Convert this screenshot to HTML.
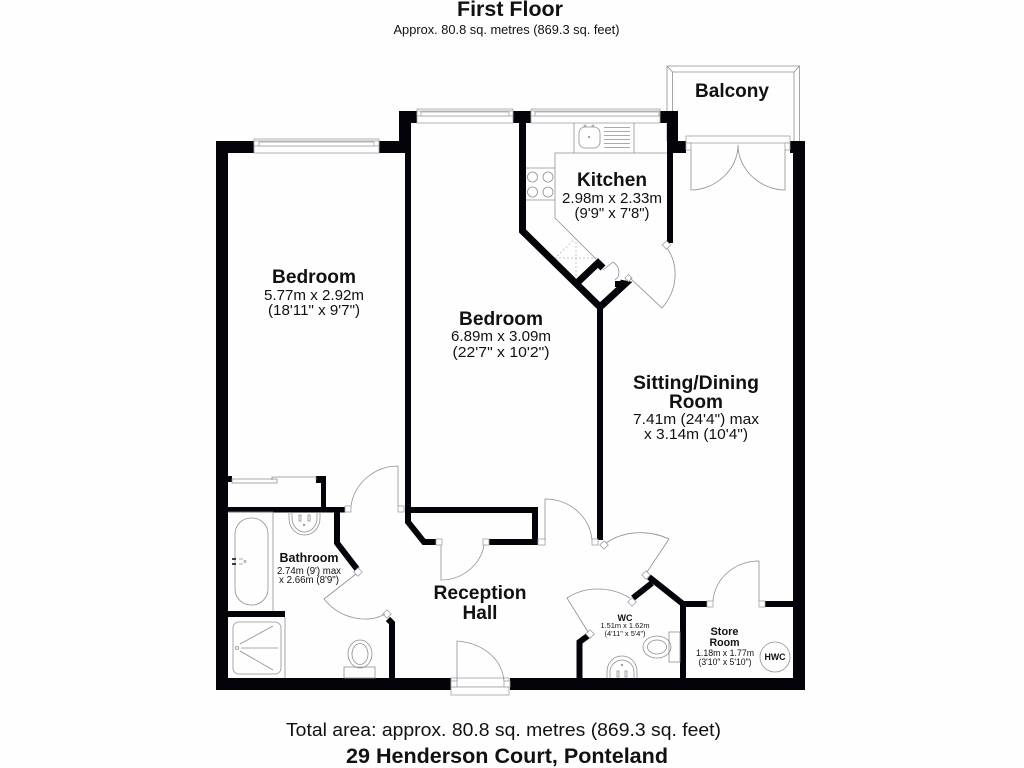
<!DOCTYPE html>
<html><head><meta charset="utf-8"><style>
html,body{margin:0;padding:0;background:#fff;width:1024px;height:768px;overflow:hidden}
svg{display:block}
text{font-family:"Liberation Sans",sans-serif;fill:#111;text-anchor:middle}
.b{font-weight:bold}
.w{fill:#05030a;stroke:none}
.wl{fill:none;stroke:#05030a;stroke-linejoin:miter}
.t{fill:none;stroke:#8f8f94;stroke-width:.8}
.f{fill:#fff;stroke:#a0a0a5;stroke-width:.8}
.d{fill:none;stroke:#bbb;stroke-width:.8;stroke-dasharray:2 2}
</style></head><body>
<svg width="1024" height="768" viewBox="0 0 1024 768" xmlns="http://www.w3.org/2000/svg">
<rect width="1024" height="768" fill="#fefefe"/>
<!-- balcony -->
<path class="t" d="M667 141V66H799.500V141M672.500 141V72H794V141M667 66L672.500 72M799.500 66L794 72"/>
<!-- outer walls -->
<rect class="w" x="216" y="141" width="12" height="549"/>
<rect class="w" x="216" y="141" width="38" height="12"/>
<rect class="w" x="379" y="141" width="32" height="12"/>
<rect class="w" x="399" y="111" width="12" height="42"/>
<rect class="w" x="399" y="111" width="18" height="12"/>
<rect class="w" x="405" y="111" width="6" height="412"/>
<rect class="w" x="513" y="111" width="18" height="12"/>
<rect class="w" x="660" y="111" width="18" height="12"/>
<rect class="w" x="667" y="111" width="11" height="42"/>
<rect class="w" x="667" y="141" width="19" height="12"/>
<rect class="w" x="667" y="141" width="6" height="102"/>
<rect class="w" x="790" y="141" width="15" height="12"/>
<rect class="w" x="793" y="141" width="12" height="549"/>
<rect class="w" x="216" y="678" width="235" height="12"/>
<rect class="w" x="510" y="678" width="295" height="12"/>
<!-- inner walls -->
<path class="wl" stroke-width="7" d="M522.500 123V231L600 307"/>
<rect class="w" x="597" y="305" width="6" height="235"/>
<path class="wl" stroke-width="7" d="M578 282L598 263L603 268"/>
<path class="wl" stroke-width="7" d="M600 307L625 284L620 283"/>
<rect class="w" x="615" y="281" width="8" height="6"/>
<!-- wardrobe + bath walls -->
<rect class="w" x="228" y="476" width="4" height="6"/>
<rect class="w" x="316" y="476" width="10" height="7"/>
<rect class="w" x="321" y="476" width="5" height="36"/>
<rect class="w" x="228" y="507" width="117" height="5.500"/>
<path class="wl" stroke-width="6" d="M337 512V543L357 569"/>
<rect class="w" x="228" y="611" width="57" height="6"/>
<path class="wl" stroke-width="6" d="M392 678V623L388 619"/>
<!-- bedroom closet -->
<rect class="w" x="405" y="507" width="133" height="6"/>
<rect class="w" x="532" y="507" width="6" height="38"/>
<rect class="w" x="489" y="539" width="49" height="6"/>
<path class="wl" stroke-width="6" d="M408 510V522L424 542H436"/>
<!-- WC / store walls -->
<path class="wl" stroke-width="6" d="M649 577L683 604H707"/>
<rect class="w" x="765" y="601" width="28" height="6"/>
<rect class="w" x="680" y="604" width="6" height="74"/>
<path class="wl" stroke-width="6" d="M652 583L633 598"/>
<path class="wl" stroke-width="6" d="M589 635L579.500 642V678"/>
<!-- windows -->
<g class="win">
<rect class="f" x="254" y="139" width="125" height="14"/><rect class="f" x="254" y="141" width="125" height="5"/><rect class="f" x="259" y="142" width="115" height="4"/>
<rect class="f" x="417" y="109" width="96" height="14"/><rect class="f" x="417" y="111" width="96" height="5"/><rect class="f" x="421" y="112" width="88" height="4"/>
<rect class="f" x="531" y="109" width="129" height="14"/><rect class="f" x="531" y="111" width="129" height="5"/><rect class="f" x="535" y="112" width="124" height="4"/>
</g>
<!-- double doors -->
<rect class="f" x="686" y="136" width="104" height="7"/>
<rect class="f" x="686" y="143" width="5" height="7"/><rect class="f" x="785" y="143" width="5" height="7"/>
<path class="t" d="M691 150V190C715 190 738 170 738 145C738 170 761 190 785 190V150"/>
<!-- kitchen -->
<path class="t" d="M667 153H555V218L597 260M574 123V153M634 123V153M526 168H555M526 200H555"/>
<rect class="t" x="579" y="127" width="21" height="21" rx="6"/>
<circle class="t" cx="585" cy="126" r="1"/><circle class="t" cx="593" cy="126" r="1"/><circle class="t" cx="589" cy="137" r=".7"/>
<path class="t" d="M604 127.500H630M604 131.500H630M604 135.500H630M604 139.500H630M604 143.500H630M604 147.500H630"/>
<circle class="t" cx="532.500" cy="177" r="5"/><circle class="t" cx="548" cy="177" r="5"/><circle class="t" cx="532.500" cy="192" r="5"/><circle class="t" cx="548" cy="192" r="5"/>
<path class="d" d="M555 258H597M576 238V279M576 238L555 258"/>
<!-- cupboard door -->
<path class="t" d="M603 270L613 262C619 266 620 272 618 277L615 280"/>
<rect class="f" x="626" y="275.500" width="5" height="5" transform="rotate(45 628.500 278)"/>
<!-- kitchen door -->
<path class="t" d="M630 278L662 308C678 290 679 265 667 248"/>
<rect class="f" x="663.500" y="242" width="6" height="6" transform="rotate(45 666.500 245)"/>
<!-- wardrobe sliding -->
<path class="t" d="M232 479H277V483H232ZM272 480V477H316V480"/>
<!-- bedroom 1 door -->
<rect class="f" x="345" y="506" width="6" height="6"/><rect class="f" x="398" y="506" width="6" height="6"/>
<path class="t" d="M398 506V466C374 466 354 484 351 506"/>
<!-- bathroom door -->
<rect class="f" x="355" y="569" width="6" height="6" transform="rotate(45 358 572)"/>
<rect class="f" x="384" y="611" width="6" height="6" transform="rotate(45 387 614)"/>
<path class="t" d="M356 574L324 599C340 619 367 624 385 614"/>
<!-- closet door -->
<rect class="f" x="436" y="539" width="6" height="6"/><rect class="f" x="483" y="539" width="6" height="6"/>
<path class="t" d="M441 545V580C463 580 481 564 484 545"/>
<!-- sitting door -->
<rect class="f" x="538" y="539" width="7" height="6"/><rect class="f" x="592" y="539" width="6" height="6"/>
<path class="t" d="M545 540V499C570 499 590 517 592 540"/>
<rect class="f" x="601" y="542" width="6" height="6" transform="rotate(45 604 545)"/>
<rect class="f" x="643" y="572" width="6" height="6" transform="rotate(45 646 575)"/>
<path class="t" d="M606 543C625 530 650 530 669 539L647 572"/>
<!-- WC door -->
<rect class="f" x="629" y="599" width="6" height="6" transform="rotate(45 632 602)"/>
<rect class="f" x="587" y="631" width="6" height="6" transform="rotate(45 590 634)"/>
<path class="t" d="M630 598C610 586 585 586 567 598L588 632"/>
<!-- store door -->
<rect class="f" x="707" y="601" width="6" height="6"/><rect class="f" x="759" y="601" width="6" height="6"/>
<path class="t" d="M759 601V561C735 561 715 578 713 601"/>
<circle class="t" cx="775" cy="657" r="15"/>
<!-- WC fixtures -->
<rect class="t" x="669" y="632" width="11" height="30"/>
<ellipse class="t" cx="657" cy="647" rx="14" ry="11"/><ellipse class="t" cx="657" cy="647" rx="9.500" ry="7"/>
<path class="t" d="M607 678V672C607 662 614 656 622 656C630 656 637 662 637 672V678M610 678V672C610 665 616 660 622 660C628 660 634 665 634 672V678"/>
<rect class="t" x="617" y="671" width="2" height="6"/><rect class="t" x="625" y="671" width="2" height="6"/><circle class="t" cx="622" cy="665" r=".7"/>
<!-- bathroom fixtures -->
<path class="t" d="M228 512H273V611"/>
<rect class="t" x="235" y="518" width="33" height="87" rx="16" ry="16"/>
<path d="M232 559H236M232 564H236" stroke="#222" stroke-width="1.800"/>
<path class="t" d="M239 559H243M239 564H243"/><circle class="t" cx="245" cy="561.500" r="1"/>
<path class="t" d="M285 617V678"/>
<rect class="t" x="233" y="622" width="48" height="52" rx="6"/>
<circle class="t" cx="237" cy="648" r="1.500"/>
<path class="t" d="M240 644L273 626M241 648H278M240 651L273 670"/>
<path class="t" d="M289 512V518C289 528 296 535 304.500 535C313 535 320 528 320 518V512M292 512V518C292 526 298 532 304.500 532C311 532 317 526 317 518V512"/>
<rect class="t" x="299" y="515" width="2" height="6"/><rect class="t" x="308" y="515" width="2" height="6"/><circle class="t" cx="304" cy="525" r=".7"/>
<rect class="t" x="344" y="667" width="31" height="11"/>
<ellipse class="t" cx="360" cy="654" rx="12" ry="14"/><ellipse class="t" cx="360" cy="654" rx="8" ry="10.500"/>
<!-- front door -->
<rect class="f" x="451" y="678" width="58" height="9"/><rect class="f" x="451" y="687" width="58" height="8"/>
<rect class="f" x="451" y="681" width="6" height="6"/><rect class="f" x="504" y="681" width="6" height="6"/>
<path class="t" d="M457 681V641C482 643 502 658 504 681"/>
<!-- texts -->
<text class="b" x="510" y="16" font-size="21.500" textLength="106" lengthAdjust="spacingAndGlyphs">First Floor</text>
<text x="506.500" y="34" font-size="13.300" textLength="226" lengthAdjust="spacingAndGlyphs">Approx. 80.8 sq. metres (869.3 sq. feet)</text>
<text class="b" x="732" y="97" font-size="19" textLength="74" lengthAdjust="spacingAndGlyphs">Balcony</text>
<text class="b" x="612" y="186" font-size="19" textLength="70" lengthAdjust="spacingAndGlyphs">Kitchen</text>
<text x="612" y="203" font-size="15" textLength="100" lengthAdjust="spacingAndGlyphs">2.98m x 2.33m</text>
<text x="612" y="218" font-size="15" textLength="75" lengthAdjust="spacingAndGlyphs">(9'9" x 7'8")</text>
<text class="b" x="314" y="283" font-size="19" textLength="84" lengthAdjust="spacingAndGlyphs">Bedroom</text>
<text x="314" y="300" font-size="15" textLength="100" lengthAdjust="spacingAndGlyphs">5.77m x 2.92m</text>
<text x="314" y="315" font-size="15" textLength="92" lengthAdjust="spacingAndGlyphs">(18'11" x 9'7")</text>
<text class="b" x="501" y="325" font-size="19" textLength="84" lengthAdjust="spacingAndGlyphs">Bedroom</text>
<text x="501" y="341" font-size="15" textLength="100" lengthAdjust="spacingAndGlyphs">6.89m x 3.09m</text>
<text x="501" y="357" font-size="15" textLength="97" lengthAdjust="spacingAndGlyphs">(22'7" x 10'2")</text>
<text class="b" x="696" y="389" font-size="19" textLength="126" lengthAdjust="spacingAndGlyphs">Sitting/Dining</text>
<text class="b" x="696" y="408" font-size="19" textLength="54" lengthAdjust="spacingAndGlyphs">Room</text>
<text x="696" y="424" font-size="15" textLength="126" lengthAdjust="spacingAndGlyphs">7.41m (24'4") max</text>
<text x="696" y="439" font-size="15" textLength="104" lengthAdjust="spacingAndGlyphs">x 3.14m (10'4")</text>
<text class="b" x="309" y="562" font-size="12.500" textLength="59" lengthAdjust="spacingAndGlyphs">Bathroom</text>
<text x="309" y="574" font-size="10" textLength="64" lengthAdjust="spacingAndGlyphs">2.74m (9') max</text>
<text x="309" y="583" font-size="10" textLength="60" lengthAdjust="spacingAndGlyphs">x 2.66m (8'9")</text>
<text class="b" x="480" y="599" font-size="19" textLength="93" lengthAdjust="spacingAndGlyphs">Reception</text>
<text class="b" x="480" y="619" font-size="19" textLength="35" lengthAdjust="spacingAndGlyphs">Hall</text>
<text class="b" x="625" y="621" font-size="9" textLength="15" lengthAdjust="spacingAndGlyphs">WC</text>
<text x="625" y="628" font-size="7.500" textLength="49" lengthAdjust="spacingAndGlyphs">1.51m x 1.62m</text>
<text x="625" y="636" font-size="7.500" textLength="41" lengthAdjust="spacingAndGlyphs">(4'11" x 5'4")</text>
<text class="b" x="724.500" y="635" font-size="11" textLength="28" lengthAdjust="spacingAndGlyphs">Store</text>
<text class="b" x="724.500" y="646" font-size="11" textLength="30" lengthAdjust="spacingAndGlyphs">Room</text>
<text x="725" y="656" font-size="9" textLength="58" lengthAdjust="spacingAndGlyphs">1.18m x 1.77m</text>
<text x="725" y="665" font-size="9" textLength="53" lengthAdjust="spacingAndGlyphs">(3'10" x 5'10")</text>
<text class="b" x="775" y="660" font-size="9" textLength="21" lengthAdjust="spacingAndGlyphs">HWC</text>
<text x="503.500" y="736" font-size="18.500" textLength="435" lengthAdjust="spacingAndGlyphs">Total area: approx. 80.8 sq. metres (869.3 sq. feet)</text>
<text class="b" x="507" y="763" font-size="21.500" textLength="322" lengthAdjust="spacingAndGlyphs">29 Henderson Court, Ponteland</text>
</svg>
</body></html>
